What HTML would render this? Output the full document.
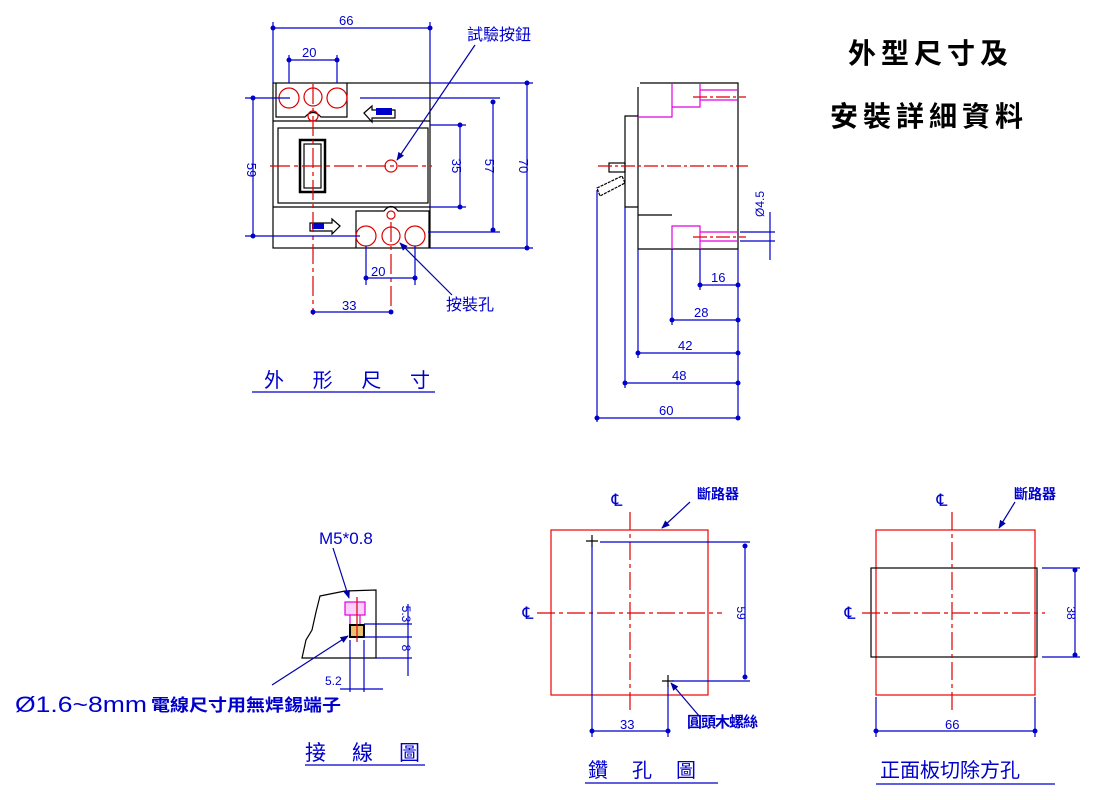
<!DOCTYPE html>
<html><head><meta charset="utf-8"><style>
html,body{margin:0;padding:0;background:#fff;}
svg{display:block;}
text{font-family:"Liberation Sans","Noto Sans CJK TC",sans-serif;}
</style></head><body>
<svg width="1100" height="800" viewBox="0 0 1100 800" xmlns="http://www.w3.org/2000/svg">
<defs>
<marker id="dot" viewBox="0 0 6 6" refX="3" refY="3" markerWidth="5" markerHeight="5"><circle cx="3" cy="3" r="2.5" fill="#0000cc"/></marker>
<marker id="arr" viewBox="0 0 10 10" refX="9" refY="5" markerWidth="7" markerHeight="7" orient="auto"><path d="M0,1 L10,5 L0,9 z" fill="#0000aa"/></marker>
</defs>
<g fill="none" stroke-width="1.2">
<!-- ===== front view ===== -->
<g stroke="#000">
<rect x="273" y="83" width="157" height="165"/>
<line x1="273" y1="121" x2="430" y2="121"/>
<line x1="273" y1="207" x2="430" y2="207"/>
<rect x="278" y="128" width="150" height="75"/>
<path d="M276,83 V117 H305 Q313,108 321,117 H347 V83"/>
<path d="M356,248 V211 H384 Q391,202 398,211 H429 V248"/>
<rect x="300" y="140" width="25" height="52" stroke-width="2.5"/>
<rect x="304" y="144" width="17" height="44"/>
<path d="M364,113 L372,106 V110 H395 V118 H372 V122 Z"/>
<path d="M340,226 L332,219 V223 H310 V231 H332 V234 Z"/>
</g>
<rect x="376" y="108" width="16" height="7" fill="#0000cc" stroke="none"/>
<rect x="312" y="223" width="12" height="6" fill="#0000cc" stroke="none"/>
<g stroke="#d00">
<circle cx="289" cy="98" r="10"/><circle cx="313" cy="97" r="9"/><circle cx="337" cy="98" r="10"/>
<circle cx="313" cy="116" r="5"/>
<circle cx="366" cy="236" r="10"/><circle cx="391" cy="236" r="9"/><circle cx="415" cy="236" r="10"/>
<circle cx="391" cy="215" r="4"/>
<circle cx="391" cy="166" r="6"/>
<line x1="270" y1="166" x2="432" y2="166" stroke-dasharray="20,4,4,4"/>
<line x1="313" y1="84" x2="313" y2="315" stroke-dasharray="20,4,4,4"/>
<line x1="391" y1="222" x2="391" y2="315" stroke-dasharray="20,4,4,4"/>
</g>
<g stroke="#0000cc">
<line x1="273" y1="22" x2="273" y2="83"/><line x1="430" y1="22" x2="430" y2="83"/>
<line x1="273" y1="28" x2="430" y2="28" marker-start="url(#dot)" marker-end="url(#dot)"/>
<line x1="289" y1="55" x2="289" y2="83"/><line x1="337" y1="55" x2="337" y2="83"/>
<line x1="289" y1="60" x2="337" y2="60" marker-start="url(#dot)" marker-end="url(#dot)"/>
<line x1="245" y1="98" x2="290" y2="98"/><line x1="245" y1="236" x2="360" y2="236"/>
<line x1="253" y1="98" x2="253" y2="236" marker-start="url(#dot)" marker-end="url(#dot)"/>
<line x1="360" y1="98" x2="500" y2="98"/><line x1="428" y1="232" x2="500" y2="232"/>
<line x1="493" y1="102" x2="493" y2="230" marker-start="url(#dot)" marker-end="url(#dot)"/>
<line x1="430" y1="125" x2="466" y2="125"/><line x1="430" y1="207" x2="466" y2="207"/>
<line x1="460" y1="125" x2="460" y2="207" marker-start="url(#dot)" marker-end="url(#dot)"/>
<line x1="430" y1="83" x2="533" y2="83"/><line x1="430" y1="248" x2="533" y2="248"/>
<line x1="527" y1="83" x2="527" y2="248" marker-start="url(#dot)" marker-end="url(#dot)"/>
<line x1="366" y1="246" x2="366" y2="285"/><line x1="415" y1="246" x2="415" y2="285"/>
<line x1="366" y1="278" x2="415" y2="278" marker-start="url(#dot)" marker-end="url(#dot)"/>
<line x1="313" y1="312" x2="391" y2="312" marker-start="url(#dot)" marker-end="url(#dot)"/>
<line x1="475" y1="45" x2="397" y2="160" stroke="#0000aa" marker-end="url(#arr)"/>
<line x1="452" y1="295" x2="400" y2="243" stroke="#0000aa" marker-end="url(#arr)"/>
<line x1="252" y1="392" x2="435" y2="392"/>
</g>
<!-- ===== side view ===== -->
<path d="M640,83 H738 V249 H638 V215 H672 M638,249 V215 V207 H625 V116 H638 V87 Z" stroke="#000"/>
<path d="M597,188 L622,176 L625,183 L600,196 Z" stroke="#000" stroke-dasharray="3,1"/>
<rect x="609" y="163" width="16" height="9" stroke="#000"/>
<g stroke="#e000e0">
<path d="M638,117 H672 V83 M672,107 H700 V83 M700,90 H738 M700,100 H738"/>
<path d="M672,249 V226 H700 V249 M700,232 H738 M700,241 H738"/>
</g>
<g stroke="#d00" stroke-dasharray="14,3,3,3">
<line x1="693" y1="97" x2="746" y2="97"/><line x1="693" y1="237" x2="746" y2="237"/>
<line x1="598" y1="166" x2="748" y2="166"/>
</g>
<g stroke="#0000cc">
<line x1="738" y1="249" x2="738" y2="420"/>
<line x1="700" y1="249" x2="700" y2="290"/><line x1="700" y1="285" x2="738" y2="285" marker-start="url(#dot)" marker-end="url(#dot)"/>
<line x1="672" y1="249" x2="672" y2="325"/><line x1="672" y1="320" x2="738" y2="320" marker-start="url(#dot)" marker-end="url(#dot)"/>
<line x1="638" y1="249" x2="638" y2="358"/><line x1="638" y1="353" x2="738" y2="353" marker-start="url(#dot)" marker-end="url(#dot)"/>
<line x1="625" y1="207" x2="625" y2="388"/><line x1="625" y1="383" x2="738" y2="383" marker-start="url(#dot)" marker-end="url(#dot)"/>
<line x1="597" y1="190" x2="597" y2="422"/><line x1="597" y1="418" x2="738" y2="418" marker-start="url(#dot)" marker-end="url(#dot)"/>
<line x1="740" y1="232" x2="775" y2="232"/><line x1="740" y1="241" x2="775" y2="241"/>
<line x1="770" y1="212" x2="770" y2="260"/>
</g>
<!-- ===== wiring ===== -->
<path d="M320,596 L345,591 L376,590 V658 H302 L306,640 L312,630 L316,612 Z" stroke="#000"/>
<rect x="345" y="602" width="20" height="13" stroke="#e000e0" fill="#fbd0fb"/>
<line x1="350" y1="615" x2="350" y2="626" stroke="#e000e0"/><line x1="360" y1="615" x2="360" y2="626" stroke="#e000e0"/>
<rect x="350" y="625" width="14" height="12" stroke="#000" stroke-width="2" fill="#e8c070"/>
<line x1="357" y1="597" x2="357" y2="642" stroke="#d00"/>
<g stroke="#0000cc">
<line x1="364" y1="624" x2="412" y2="624"/><line x1="364" y1="637" x2="412" y2="637"/><line x1="376" y1="658" x2="412" y2="658"/>
<line x1="408" y1="604" x2="408" y2="676"/>
<line x1="350" y1="640" x2="350" y2="692"/><line x1="364" y1="640" x2="364" y2="692"/>
<line x1="340" y1="689" x2="383" y2="689"/>
<line x1="272" y1="685" x2="348" y2="636" stroke="#0000aa" marker-end="url(#arr)"/>
<line x1="333" y1="548" x2="349" y2="598" stroke="#0000aa" marker-end="url(#arr)"/>
<line x1="305" y1="765" x2="425" y2="765"/>
</g>
<!-- ===== drill ===== -->
<rect x="551" y="530" width="157" height="165" stroke="#e00"/>
<g stroke="#d00" stroke-dasharray="18,4,4,4">
<line x1="630" y1="512" x2="630" y2="710"/><line x1="537" y1="613" x2="722" y2="613"/>
</g>
<g stroke="#000"><path d="M586,541 h12 M592,535 v12 M662,681 h12 M668,675 v12"/></g>
<g stroke="#0000cc">
<line x1="592" y1="545" x2="592" y2="737"/><line x1="668" y1="685" x2="668" y2="737"/>
<line x1="600" y1="542" x2="750" y2="542"/><line x1="672" y1="681" x2="750" y2="681"/>
<line x1="745" y1="546" x2="745" y2="677" marker-start="url(#dot)" marker-end="url(#dot)"/>
<line x1="592" y1="731" x2="668" y2="731" marker-start="url(#dot)" marker-end="url(#dot)"/>
<line x1="690" y1="502" x2="662" y2="528" stroke="#0000aa" marker-end="url(#arr)"/>
<line x1="700" y1="717" x2="671" y2="683" stroke="#0000aa" marker-end="url(#arr)"/>
<line x1="585" y1="783" x2="718" y2="783"/>
</g>
<!-- ===== panel cut ===== -->
<rect x="876" y="530" width="159" height="165" stroke="#e00"/>
<rect x="871" y="568" width="166" height="89" stroke="#000"/>
<g stroke="#d00" stroke-dasharray="18,4,4,4">
<line x1="952" y1="512" x2="952" y2="710"/><line x1="862" y1="613" x2="1045" y2="613"/>
</g>
<g stroke="#0000cc">
<line x1="1042" y1="568" x2="1080" y2="568"/><line x1="1042" y1="657" x2="1080" y2="657"/>
<line x1="1075" y1="570" x2="1075" y2="655" marker-start="url(#dot)" marker-end="url(#dot)"/>
<line x1="876" y1="697" x2="876" y2="737"/><line x1="1035" y1="697" x2="1035" y2="737"/>
<line x1="876" y1="731" x2="1035" y2="731" marker-start="url(#dot)" marker-end="url(#dot)"/>
<line x1="1015" y1="502" x2="999" y2="528" stroke="#0000aa" marker-end="url(#arr)"/>
<line x1="876" y1="784" x2="1055" y2="784"/>
</g>
</g>
<!-- text -->
<g fill="#0000cc" font-size="13">
<text x="339" y="25">66</text>
<text x="302" y="57">20</text>
<text x="371" y="276">20</text>
<text x="342" y="310">33</text>
<text x="247" y="170" transform="rotate(90 247 170)" text-anchor="middle">59</text>
<text x="452" y="166" transform="rotate(90 452 166)" text-anchor="middle">35</text>
<text x="485" y="166" transform="rotate(90 485 166)" text-anchor="middle">57</text>
<text x="519" y="166" transform="rotate(90 519 166)" text-anchor="middle">70</text>
<text x="467" y="40" font-size="16">試驗按鈕</text>
<text x="446" y="310" font-size="16">按裝孔</text>
<text x="264" y="387" font-size="20" textLength="166" lengthAdjust="spacing">外形尺寸</text>
<text x="711" y="282">16</text>
<text x="694" y="317">28</text>
<text x="678" y="350">42</text>
<text x="672" y="380">48</text>
<text x="659" y="415">60</text>
<text x="764" y="204" font-size="12" transform="rotate(-90 764 204)" text-anchor="middle">Ø4.5</text>
<text x="319" y="544" font-size="17">M5*0.8</text>
<text x="402" y="614" font-size="12" transform="rotate(90 402 614)" text-anchor="middle">5.3</text>
<text x="402" y="648" font-size="12" transform="rotate(90 402 648)" text-anchor="middle">8</text>
<text x="325" y="685" font-size="12">5.2</text>
<text x="15" y="712" font-size="22" textLength="132" lengthAdjust="spacingAndGlyphs">Ø1.6~8mm</text>
<text x="151" y="711" font-size="17" font-weight="bold" textLength="190" lengthAdjust="spacingAndGlyphs">電線尺寸用無焊錫端子</text>
<text x="305" y="760" font-size="21" textLength="115" lengthAdjust="spacing">接線圖</text>
<text x="697" y="499" font-size="14" font-weight="bold">斷路器</text>
<text x="737" y="613" font-size="12" transform="rotate(90 737 613)" text-anchor="middle">59</text>
<text x="620" y="729">33</text>
<text x="687" y="727" font-size="15" font-weight="bold" letter-spacing="-1">圓頭木螺絲</text>
<text x="588" y="777" font-size="20" letter-spacing="24">鑽孔圖</text>
<text x="1014" y="499" font-size="14" font-weight="bold">斷路器</text>
<text x="1067" y="613" font-size="12" transform="rotate(90 1067 613)" text-anchor="middle">38</text>
<text x="945" y="729">66</text>
<text x="880" y="777" font-size="20">正面板切除方孔</text>
<text x="617" y="506" font-size="17" text-anchor="middle">℄</text>
<text x="942" y="506" font-size="17" text-anchor="middle">℄</text>
<text x="528" y="619" font-size="17" text-anchor="middle">℄</text>
<text x="850" y="619" font-size="17" text-anchor="middle">℄</text>
</g>
<g fill="#000" font-size="28" font-weight="bold" font-family="'Liberation Sans','Noto Sans CJK TC',sans-serif">
<text x="848" y="63" letter-spacing="5">外型尺寸及</text>
<text x="830" y="126" letter-spacing="5">安裝詳細資料</text>
</g>
</svg>
</body></html>
